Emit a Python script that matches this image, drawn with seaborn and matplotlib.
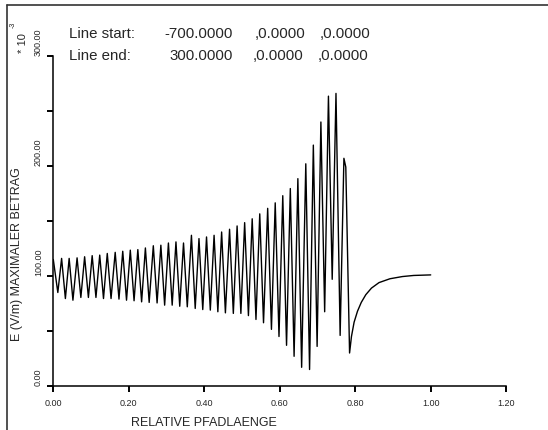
import numpy as np
import pandas as pd
import seaborn as sns
import matplotlib
matplotlib.use("Agg")
import matplotlib.pyplot as plt
from matplotlib.lines import Line2D

# ---- data ----
peak_x = [0.000, 0.022, 0.042, 0.063, 0.083, 0.103, 0.123, 0.143, 0.164, 0.184,
          0.204, 0.224, 0.244, 0.265, 0.285, 0.305, 0.325, 0.345, 0.366, 0.386,
          0.406, 0.426, 0.446, 0.467, 0.487, 0.507, 0.527, 0.547, 0.568, 0.588,
          0.608, 0.628, 0.648, 0.669, 0.689, 0.709, 0.729, 0.749, 0.770]
peak_y = [115, 116, 116, 116.5, 117.5, 118.5, 119, 120.5, 121.5, 122.5,
          123.5, 124, 125.5, 127.5, 128, 130, 131, 130, 137, 134,
          135.5, 137, 140, 142.5, 145.5, 148.5, 152, 156.5, 161.5, 166.5,
          173, 179.5, 188.5, 202, 219, 240, 263.5, 266, 207]
trough_x = [0.012, 0.032, 0.052, 0.073, 0.093, 0.113, 0.133, 0.153, 0.174, 0.194,
            0.214, 0.234, 0.254, 0.275, 0.295, 0.315, 0.335, 0.355, 0.376, 0.396,
            0.416, 0.436, 0.456, 0.477, 0.497, 0.517, 0.537, 0.557, 0.578, 0.598,
            0.618, 0.638, 0.658, 0.679, 0.699, 0.719, 0.739, 0.760]
trough_y = [85, 79.5, 78, 80.5, 80.5, 80.5, 79.5, 79.5, 79, 78,
            77.5, 76.5, 76, 75.5, 73.5, 73.5, 72.5, 72, 70.5, 69.5,
            69, 67.5, 66.5, 66, 66, 64, 60.5, 57.5, 51.5, 45,
            37, 27, 17, 15, 36, 67.5, 97, 46]
tail_x = [0.775, 0.785, 0.790, 0.797, 0.806, 0.816, 0.828, 0.843, 0.863, 0.892,
          0.925, 0.955, 1.000]
tail_y = [199, 30, 45, 58, 68, 76, 83, 89, 94, 97.5, 99.5, 100.5, 101]

xticks = [0.0, 0.2, 0.4, 0.6, 0.8, 1.0, 1.2]
yticks = [0, 100, 200, 300]
yminor = [50, 150, 250]

# assemble the path: peak, trough, peak, ...
xs, ys = [], []
for i in range(len(peak_x)):
    xs.append(peak_x[i]); ys.append(peak_y[i])
    if i < len(trough_x):
        xs.append(trough_x[i]); ys.append(trough_y[i])
xs += tail_x
ys += tail_y
df = pd.DataFrame({"x": xs, "y": ys})

sns.set_style("white")
plt.rcParams["font.family"] = ["Liberation Sans", "DejaVu Sans"]

fig = plt.figure(figsize=(5.48, 4.30), dpi=100)
ax = fig.add_axes([53.3 / 548, 44 / 430, 452.9 / 548, 330 / 430])

sns.lineplot(data=df, x="x", y="y", sort=False, color="black", linewidth=1.0,
             ax=ax, estimator=None)

ax.set_xlim(0, 1.2)
ax.set_ylim(0, 300)
ax.set_xticks(xticks)
ax.set_xticklabels([f"{t:.2f}" for t in xticks], fontsize=6.5)
ax.set_yticks(yticks)
ax.set_yticklabels([f"{t:.2f}" for t in yticks], fontsize=6.5, rotation=90)
ax.set_yticks(yminor, minor=True)
plt.setp(ax.get_yticklabels(), va="bottom")
ax.tick_params(axis="both", which="both", direction="out", length=4.5, width=1.4,
               color="black", left=True, bottom=True)
ax.tick_params(axis="x", pad=5)
ax.tick_params(axis="y", pad=3)

for s in ["top", "right"]:
    ax.spines[s].set_visible(False)
for s in ["left", "bottom"]:
    ax.spines[s].set_color("black")
    ax.spines[s].set_linewidth(1.1)

ax.set_xlabel("RELATIVE PFADLAENGE", fontsize=9)
ax.xaxis.set_label_coords(0.4 / 1.2, -0.095)
ax.set_ylabel("E (V/m) MAXIMALER BETRAG", fontsize=9)
ax.yaxis.set_label_coords(-0.068, 0.4)

# exponent marker
fig.text(22.5 / 548, 1 - 43 / 430, "* 10", rotation=90, fontsize=8,
         ha="center", va="center")
fig.text(13.5 / 548, 1 - 25 / 430, "-3", rotation=90, fontsize=5,
         ha="center", va="center")

# header text
fs = 10.8
for yrow, lab, v1, c2x, c3x in [(34, "Line start:", "-700.0000", 255, 320),
                                 (56, "Line end:", "300.0000", 253, 318)]:
    yf = 1 - yrow / 430
    fig.text(69 / 548, yf, lab, fontsize=fs, ha="left", va="center")
    fig.text(233 / 548, yf, v1, fontsize=fs, ha="right", va="center")
    fig.text(c2x / 548, yf, ",0.0000", fontsize=fs, ha="left", va="center")
    fig.text(c3x / 548, yf, ",0.0000", fontsize=fs, ha="left", va="center")

# outer frame lines
fig.add_artist(Line2D([7 / 548, 7 / 548], [0, 1 - 5 / 430], color="#333333",
                      linewidth=1.2, transform=fig.transFigure))
fig.add_artist(Line2D([7 / 548, 1], [1 - 5 / 430, 1 - 5 / 430], color="#333333",
                      linewidth=1.2, transform=fig.transFigure))

fig.savefig("out.png", dpi=100)
